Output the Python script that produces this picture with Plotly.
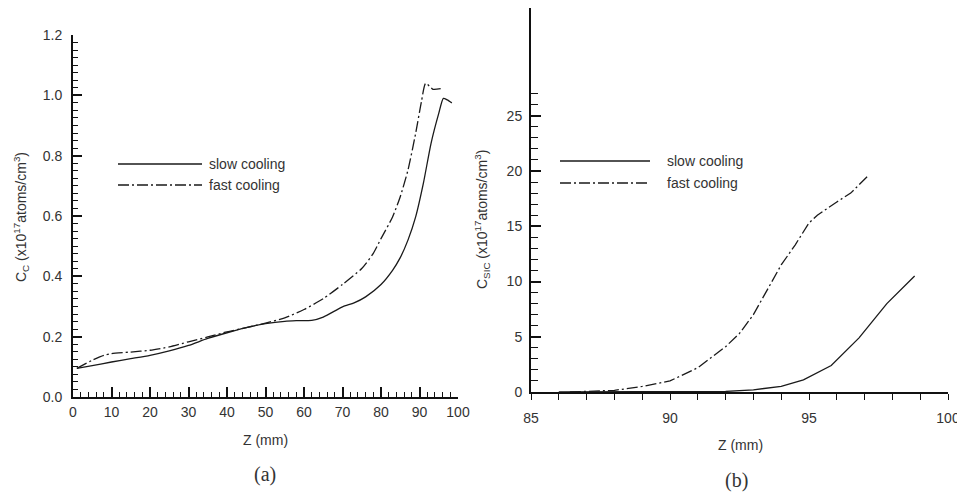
import plotly.graph_objects as go

# ---------------- data ----------------
# (a) carbon concentration vs Z
z_slow_a = [1, 5, 10, 15, 20, 25, 30, 35, 40, 45, 50, 55, 58, 62, 65, 70, 73, 76, 80, 83, 85, 87, 89, 91, 93, 95, 96.2, 97.2, 98.4]
c_slow_a = [0.095, 0.104, 0.116, 0.127, 0.138, 0.153, 0.171, 0.194, 0.213, 0.230, 0.243, 0.251, 0.253, 0.254, 0.265, 0.299, 0.312, 0.332, 0.373, 0.42, 0.462, 0.52, 0.597, 0.708, 0.841, 0.94, 0.99, 0.985, 0.975]

z_fast_a = [1, 5, 8, 10, 15, 20, 25, 30, 35, 40, 45, 50, 55, 60, 65, 70, 75, 78, 80, 83, 85, 87, 89, 90.5, 91.6, 93.5, 95.5]
c_fast_a = [0.095, 0.122, 0.138, 0.144, 0.149, 0.155, 0.166, 0.183, 0.199, 0.216, 0.230, 0.245, 0.262, 0.290, 0.326, 0.373, 0.426, 0.476, 0.525, 0.597, 0.664, 0.752, 0.874, 0.979, 1.04, 1.02, 1.022]

# (b) SiC concentration vs Z
z_slow_b = [86, 88, 90, 92, 93, 94, 94.8, 95.8, 96.8, 97.8, 98.8]
c_slow_b = [0, 0, 0, 0.05, 0.2, 0.5, 1.1, 2.4, 4.9, 8.0, 10.5]

z_fast_b = [86.4, 87, 88, 89, 90, 91, 92, 92.5, 93, 94, 94.5, 95, 95.3, 96, 96.5, 97.1]
c_fast_b = [0, 0.06, 0.15, 0.5, 1.0, 2.2, 4.1, 5.3, 7.0, 11.5, 13.3, 15.3, 16.0, 17.2, 18.0, 19.5]

series_names = ["slow cooling", "fast cooling"]
yticks_a = [0.0, 0.2, 0.4, 0.6, 0.8, 1.0, 1.2]
yticks_b = [0, 5, 10, 15, 20, 25]
xticks_b = [85, 90, 95, 100]

# ---------------- styling ----------------
OFF = 8               # page body margin
W, H = 965 - OFF, 493 - OFF
LINE = "#1a1a1a"
TXT = "#333333"
FONT = "Liberation Sans, Arial, Helvetica, sans-serif"
SERIF = "Liberation Serif, Times New Roman, serif"
DASHDOT = "11px,3px,2px,3px"


def px(x):
    return min(max((x - OFF) / W, 0), 1)


def py(y):
    return min(max(1 - (y - OFF) / H, 0), 1)


fig = go.Figure()

fig.add_trace(go.Scatter(x=z_slow_a, y=c_slow_a, mode="lines", name=series_names[0],
                         line=dict(color=LINE, width=1.3, shape="spline", smoothing=0.6),
                         xaxis="x", yaxis="y", showlegend=False))
fig.add_trace(go.Scatter(x=z_fast_a, y=c_fast_a, mode="lines", name=series_names[1],
                         line=dict(color=LINE, width=1.3, dash=DASHDOT, shape="spline", smoothing=0.6),
                         xaxis="x", yaxis="y", showlegend=False))
fig.add_trace(go.Scatter(x=z_slow_b, y=c_slow_b, mode="lines", name=series_names[0],
                         line=dict(color=LINE, width=1.3),
                         xaxis="x2", yaxis="y2", showlegend=False))
fig.add_trace(go.Scatter(x=z_fast_b, y=c_fast_b, mode="lines", name=series_names[1],
                         line=dict(color=LINE, width=1.3, dash=DASHDOT),
                         xaxis="x2", yaxis="y2", showlegend=False))

axis_common = dict(showgrid=False, zeroline=False, showline=True, linecolor="#111111",
                   tickcolor="#111111", automargin=False,
                   tickfont=dict(family=FONT, size=14, color=TXT))

# left panel axes: x 0..100 spans px 73..458, y 0..1.2 spans px 397..35
fig.update_layout(
    xaxis=dict(domain=[px(73), px(458)], range=[0, 100], anchor="y",
               tickmode="array", tickvals=list(range(0, 101, 10)),
               ticks="inside", ticklen=10, tickwidth=1.5, linewidth=2,
               minor=dict(tickmode="array", tickvals=list(range(0, 101, 2)), ticks="inside",
                          ticklen=5, tickwidth=1, tickcolor="#111111"),
               ticklabelstandoff=1, **axis_common),
    yaxis=dict(domain=[py(397), py(35)], range=[0, 1.2], anchor="x",
               tickmode="array", tickvals=yticks_a, tickformat=".1f",
               ticks="inside", ticklen=9, tickwidth=1.5, linewidth=2,
               minor=dict(tickmode="array", tickvals=[i * 0.025 for i in range(49)], ticks="inside",
                          ticklen=5, tickwidth=1, tickcolor="#111111"),
               ticklabelstandoff=6, **axis_common),
)

# right panel axes: x 85..100 spans px 531..948, y 0 at px 392 with 11.05 px per unit
y2_top_px = OFF
y2_top_val = (392 - y2_top_px) / 11.05
fig.update_layout(
    xaxis2=dict(domain=[px(531), px(948)], range=[85, 100], anchor="y2",
                tickmode="array", tickvals=xticks_b,
                ticks="outside", ticklen=6, tickwidth=1.3, linewidth=2,
                minor=dict(tickmode="array", tickvals=list(range(85, 101)), ticks="outside",
                           ticklen=6, tickwidth=1, tickcolor="#111111"),
                ticklabelstandoff=6, **axis_common),
    yaxis2=dict(domain=[py(392), py(y2_top_px)], range=[0, y2_top_val], anchor="x2",
                tickmode="array", tickvals=yticks_b,
                ticks="inside", ticklen=10, tickwidth=1.5, linewidth=2,
                minor=dict(tickmode="array", tickvals=list(range(0, 28)), ticks="inside",
                           ticklen=7, tickwidth=1, tickcolor="#111111"),
                ticklabelstandoff=4, **axis_common),
)

# legends (drawn as layout decorations)
shapes = []
annotations = []


def legend(x0, x1, y_solid, y_dash, xtext):
    shapes.append(dict(type="line", xref="paper", yref="paper", x0=px(x0), x1=px(x1),
                       y0=py(y_solid), y1=py(y_solid), line=dict(color=LINE, width=1.6)))
    shapes.append(dict(type="line", xref="paper", yref="paper", x0=px(x0), x1=px(x1),
                       y0=py(y_dash), y1=py(y_dash), line=dict(color=LINE, width=1.3, dash=DASHDOT)))
    for yy, name in ((y_solid, series_names[0]), (y_dash, series_names[1])):
        annotations.append(dict(xref="paper", yref="paper", x=px(xtext), y=py(yy), text=name,
                                showarrow=False, xanchor="left", yanchor="middle",
                                font=dict(family=FONT, size=14, color=TXT)))


legend(118, 202, 164, 185, 207)
legend(560, 650, 161, 183, 665)


def label(x, y, text, size=14, angle=0, family=FONT):
    annotations.append(dict(xref="paper", yref="paper", x=px(x), y=py(y), text=text,
                            showarrow=False, xanchor="center", yanchor="middle", textangle=angle,
                            font=dict(family=family, size=size, color=TXT)))


label(265, 440, "Z (mm)")
label(740, 445, "Z (mm)")
label(21, 217, "C<sub>C</sub> (x10<sup>17</sup>atoms/cm<sup>3</sup>)", angle=-90)
label(482, 220, "C<sub>SIC</sub> (x10<sup>17</sup>atoms/cm<sup>3</sup>)", angle=-90)
label(265, 474, "(a)", size=20, family=SERIF)
label(736, 480, "(b)", size=20, family=SERIF)

fig.update_layout(
    width=W, height=H, margin=dict(l=0, r=0, t=0, b=0, pad=0, autoexpand=False),
    paper_bgcolor="white", plot_bgcolor="white",
    shapes=shapes, annotations=annotations, showlegend=False,
)

fig.write_html("out.html")
